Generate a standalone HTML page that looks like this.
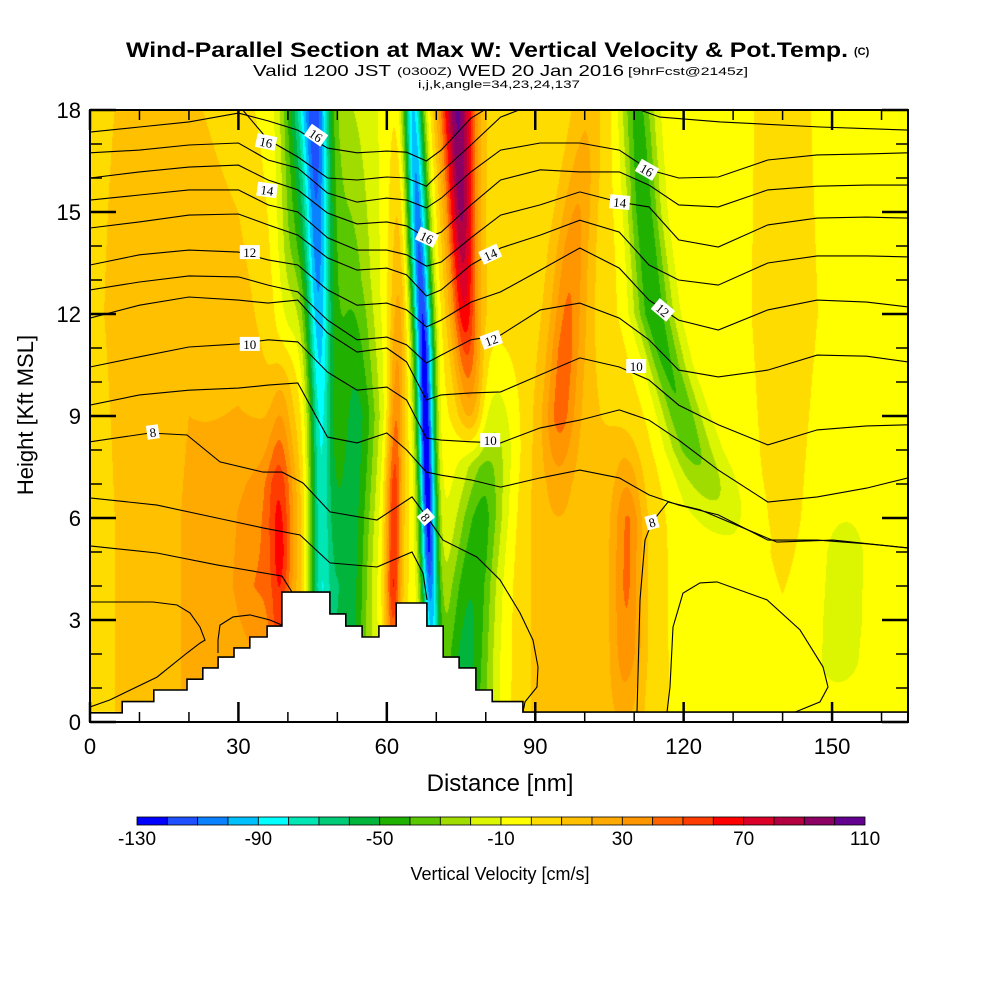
<!DOCTYPE html>
<html><head><meta charset="utf-8">
<style>
body{margin:0;background:#fff;width:1000px;height:1000px;overflow:hidden;position:relative;font-family:"Liberation Sans",Arial,sans-serif}
#field{position:absolute;left:90px;top:110px}
#ov{position:absolute;left:0;top:0}
</style></head>
<body>
<canvas id="field" width="818" height="612"></canvas>
<svg id="ov" width="1000" height="1000" xmlns="http://www.w3.org/2000/svg">
  <defs><clipPath id="plotclip"><rect x="90" y="110" width="818" height="612"/></clipPath></defs>
  <g id="contours" clip-path="url(#plotclip)"></g>
  <g id="terrain" clip-path="url(#plotclip)"></g>
  <g id="clabels"></g>
  <rect x="90" y="110" width="818" height="612" fill="none" stroke="#000" stroke-width="2"/>
  <g id="ticks"></g>
  <g id="ticklabels" font-family="Liberation Sans, Arial, sans-serif" font-size="22"></g>
  <g id="colorbar"></g>
  <text x="126" y="57" font-size="21" font-weight="bold" textLength="722" lengthAdjust="spacingAndGlyphs">Wind-Parallel Section at Max W: Vertical Velocity &amp; Pot.Temp.</text>
  <text x="854" y="55" font-size="11" font-weight="bold">(C)</text>
  <text x="253" y="76" font-size="16" textLength="138" lengthAdjust="spacingAndGlyphs">Valid 1200 JST</text>
  <text x="397" y="75" font-size="11" textLength="55" lengthAdjust="spacingAndGlyphs">(0300Z)</text>
  <text x="458" y="76" font-size="16" textLength="166" lengthAdjust="spacingAndGlyphs">WED 20 Jan 2016</text>
  <text x="628" y="75" font-size="11" textLength="120" lengthAdjust="spacingAndGlyphs">[9hrFcst@2145z]</text>
  <text x="418" y="88" font-size="11" textLength="162" lengthAdjust="spacingAndGlyphs">i,j,k,angle=34,23,24,137</text>
  <text x="500" y="791" font-size="24" text-anchor="middle">Distance [nm]</text>
  <text transform="translate(33,415) rotate(-90)" font-size="22" text-anchor="middle">Height [Kft MSL]</text>
  <text x="500" y="880" font-size="18" text-anchor="middle">Vertical Velocity [cm/s]</text>
</svg>
<script>
// ---------- axis / colour data ----------
const xTicks=[0,30,60,90,120,150];
const yTicks=[0,3,6,9,12,15,18];
const levelMin=-130, levelStep=10;
const binColors=["#0000ff","#1e50ff","#0a82ff","#00c0ff","#00ffff","#00e6b4","#00cc78","#00b43c","#20b000","#5ac800","#a0dc00","#dcf500","#ffff00","#ffdc00","#ffc000","#ffaa00","#ff9600","#ff6400","#ff3c00","#ff0000","#dc0028","#b40040","#8c0064","#640090"];
const cbarLabels=[-130,-90,-50,-10,30,70,110];

// ---------- background vertical velocity grid (cm/s) ----------
const bgX=[0,10,20,30,40,50,60,70,80,90,100,110,120,130,140,150,165.35];
const bgH=[0,6,12,18];
const bgRow0=[5,15,21,22,20,-5,0,-10,-10,12,15,12,-5,-5,-5,-5,-5];
const bgRow6=[5,15,21,24,18,-5,5,-5,-10,12,16,10,-5,-5,3,-5,-5];
const bgRow12=[8,15,19,15,0,-10,0,0,5,6,10,-3,-3,-3,5,-2,-5];
const bgRow18=[8,12,12,5,-10,-10,-5,0,5,3,6,-3,-3,-3,4,-3,-5];

// ---------- tilted w bands: height nodes, centre (nm), amplitude (cm/s), half-width (nm) ----------
const a1H=[0.3,4,9,13,18], a1X=[46.5,46.5,46.5,46,45.5], a1Amp=[-60,-65,-75,-90,-100], a1W=[2.5,2.5,2.5,2.8,3];
const a2H=[0.3,4,9,13,18], a2X=[52,52,54,53,52], a2Amp=[-50,-55,-50,-28,-12], a2W=[5,5,5,5,6];
const a0H=[10,14,18], a0X=[40,41,41.5], a0Amp=[0,-25,-35], a0W=[3,3,3];
const dH=[3.8,5,7,9,11.5], dX=[38.5,38.5,38.3,38.5,38.8], dAmp=[25,32,28,15,0], dW=[2,2.2,2.5,2,2];
const skH=[2,4,7,10], skX=[36,35,36,37], skAmp=[10,20,15,0], skW=[6,6,6,6];
const d2H=[3,4,7,10,13,18], d2X=[61.3,61.3,61.5,62,62.3,62.5], d2Amp=[50,60,55,35,20,10], d2W=[1.6,1.6,1.6,1.6,1.8,2];
const bH=[2.8,3.5,5,8,11,14,18], bX=[69,68.8,68.5,68,67.5,66.5,65.3], bAmp=[-80,-90,-115,-130,-125,-110,-90], bW=[1.8,1.8,1.8,1.8,2,2.2,2.2];
const cH=[7.5,9,12,15,18], cX=[78,77,75.7,75,74.3], cAmp=[0,30,65,90,100], cW=[3,3,2.8,3,3.5];
const hH=[0.3,2,4,6,8,10,12], hX=[76,76,77,79,81,82,82], hAmp=[-40,-45,-40,-35,-25,-10,0], hW=[5,5,5,5,5,5,5];
const fH=[5,7,9,11,14,17,18.5], fX=[94,94.5,95,96,97.5,100,101], fAmp=[0,12,34,36,28,15,10], fW=[3.5,3.5,3.5,3.5,3.5,3.5,3.5];
const gH=[0.3,2,4,6,7.5,9], gX=[108,108.5,108.5,108.7,108.5,107.5], gAmp=[10,25,30,30,15,0], gW=[3,3,3,3,3,3];
const eH=[5,6.5,8,9,10.5,12,15,18.5], eX=[130,126,121.5,119.5,116.5,114,112,110.5], eAmp=[0,-15,-30,-35,-40,-45,-45,-40], eW=[6,6,5,4.5,4,4,3.5,3.5];
const kH=[0.8,1.7,3,5,6.5], kX=[151,151.5,152,152.5,153], kAmp=[0,-12,-14,-12,0], kW=[4,4,4,4,4];
const dataBottom=0.29;

// ---------- terrain (step edges nm, top kft) ----------
const terrainEdges=[0,6.5,12.9,19.6,22.8,25.9,29.1,32.3,35.8,38.8,48.5,51.7,55,58.4,61.9,68.1,71.4,74.6,78,81.3,87.5,165.35];
const terrainTops=[0.27,0.6,0.94,1.26,1.59,1.91,2.18,2.5,2.82,3.82,3.18,2.82,2.5,2.82,3.5,2.82,1.91,1.59,0.94,0.6,0.29];

// ---------- potential temperature isentropes (height kft at thetaX nm) ----------
const thetaX=[0,10,20,30,36,42,48,54,60,64,68,71,77,83,91,99,107,113,119,127,137,147,157,165.35];
const thetaA=[17.35,17.5,17.65,17.91,17.68,17.41,16.88,16.74,16.79,16.76,16.5,16.82,17.76,18.29,null,null,null,null,null,null,null,null,null,null];
const thetaB=[null,null,null,18.15,17.12,16.62,16,15.94,16.03,16,15.76,16.18,16.97,17.79,18.24,null,null,null,null,null,null,null,null,null];
const thetaC=[16.74,16.82,16.97,17.03,16.53,16.29,15.56,15.29,15.41,15.35,15.12,15.41,16.18,16.82,17.03,17.03,16.82,16.24,16,16.03,16.53,16.68,16.71,16.74];
const thetaD=[16,16.18,16.32,16.38,15.94,15.65,14.97,14.65,14.71,14.59,14.24,14.41,15.21,15.94,16.24,16.18,16.18,15.79,15.21,15.15,15.65,15.76,15.79,15.79];
const thetaE=[15.35,15.5,15.65,15.65,15.21,15,14.24,13.88,13.88,13.74,13.41,13.53,14.24,14.91,15.21,15.59,15.29,15.15,14.18,13.97,14.62,14.82,14.85,14.82];
const thetaF=[14.53,14.71,14.91,14.94,14.62,14.32,13.65,13.29,13.35,13.15,12.53,12.71,13.44,13.94,14.32,14.76,14.41,13.44,13,12.85,13.5,13.71,13.71,13.68];
const thetaG=[13.44,13.74,13.88,13.82,13.59,13.44,12.71,12.26,12.32,12.12,11.62,11.82,12.35,12.65,13.29,13.94,13.35,12.41,11.82,11.53,12.12,12.41,12.35,12.21];
const thetaH=[12.71,12.94,13.12,13.09,12.85,12.65,11.82,11.24,11.32,11.09,10.56,10.79,11.24,11.38,12.12,12.32,11.88,11.24,10.35,10.15,10.35,10.79,10.76,10.59];
const thetaI=[11.88,12.26,12.5,12.41,12.32,12.41,11.44,10.88,11,10.59,9.47,9.62,9.68,9.71,10.21,10.71,10.44,10.06,9.32,8.74,8.15,8.59,8.71,8.74];
const thetaJ=[10.44,10.74,11.03,11.12,11.24,11.18,10.29,9.76,9.85,9.47,8.35,8.29,8.24,8.21,8.65,8.88,9.18,8.88,8.29,7.41,6.47,6.62,6.88,7.18];
const thetaK=[9.32,9.62,9.76,9.82,9.91,9.97,8.38,8.21,8.5,8,7.35,7.26,7.12,6.91,7.18,7.41,7.18,6.68,6.38,6.09,5.35,5.35,5.24,5.12];
// free-form isentropes as [nm, kft] pairs
const theta8West=[[0,8.24],[12.13,8.5],[19.61,8.44],[26.28,7.65],[34.97,7.35],[38.81,7.35],[43.06,7.03],[48.51,6.18],[58.01,5.94],[65.09,6.62],[68.12,6.03],[71.36,5.35],[78.23,4.85],[82.88,4.18],[86.92,3.21],[89.55,2.41],[90.56,1.62],[90.36,1.03],[87.93,0.59],[87.53,0.29]];
const theta7=[[0,6.59],[13.54,6.38],[25.67,6],[34.97,5.71],[42.45,5.5],[48.51,4.68],[58.01,4.56],[65.09,5],[67.31,4.38],[68.12,3.59]];
const theta6=[[0,5.18],[13.54,4.97],[25.67,4.62],[38.81,4.29],[40.83,3.82]];
const theta5=[[0,3.53],[12.74,3.53],[17.59,3.44],[20.21,3.21],[22.24,2.79],[23.25,2.41],[22.24,2.32],[19.61,2.03],[13.54,1.32],[4.04,0.65],[0,0.44]];
const thetaSmall=[[25.87,2.03],[25.87,2.41],[26.28,2.85],[28.91,3.09],[32.34,3.15],[36.39,3],[38.81,2.85]];
const theta8East=[[110.57,0.29],[111.18,3.59],[112.19,5.35],[113.6,5.88],[116.84,6.47],[123.31,6.24],[138.87,5.29],[150.2,5.35],[165.35,5.12]];
const thetaLoop=[[116.64,0.29],[117.24,1.03],[117.85,2.79],[119.87,3.79],[123.31,4.09],[126.74,4.12],[136.85,3.59],[143.52,2.71],[148.17,1.62],[149.18,1.03],[147.56,0.59],[142.51,0.29]];
const thetaTopRight=[[111.18,18.0],[115.2,17.79],[127.4,17.65],[147.6,17.5],[165.35,17.41]];
// contour labels: text, nm, kft, rotation
const clabelText=["16","16","14","12","10","8","8","16","14","12","10","16","14","12","10","8"];
const clabelX=[35.6,45.7,35.8,32.3,32.3,12.7,67.9,68.1,80.9,81.1,80.9,112.6,107.1,115.8,110.4,113.6];
const clabelY=[17.06,17.26,15.65,13.82,11.12,8.53,6.03,14.26,13.76,11.24,8.29,16.24,15.29,12.12,10.47,5.88];
const clabelRot=[12,35,8,0,0,-8,50,25,-25,-20,0,30,5,40,0,-15];

// ---------- scales ----------
const X0=90,X1=908,Y0=110,Y1=722,XMAX=165.35,YMAX=18;
function sx(nm){return X0+nm*(X1-X0)/XMAX;}
function sy(k){return Y1-k*(Y1-Y0)/YMAX;}
const NS="http://www.w3.org/2000/svg";

// ---------- field ----------
const features=[
 {h:a1H,x:a1X,a:a1Amp,w:a1W},{h:a2H,x:a2X,a:a2Amp,w:a2W},{h:a0H,x:a0X,a:a0Amp,w:a0W},
 {h:dH,x:dX,a:dAmp,w:dW},{h:skH,x:skX,a:skAmp,w:skW},{h:d2H,x:d2X,a:d2Amp,w:d2W},
 {h:bH,x:bX,a:bAmp,w:bW},{h:cH,x:cX,a:cAmp,w:cW},{h:hH,x:hX,a:hAmp,w:hW},
 {h:fH,x:fX,a:fAmp,w:fW},{h:gH,x:gX,a:gAmp,w:gW},{h:eH,x:eX,a:eAmp,w:eW},{h:kH,x:kX,a:kAmp,w:kW}];
function interpNodes(hs,vs,h){
  if(h<=hs[0])return vs[0];
  if(h>=hs[hs.length-1])return vs[vs.length-1];
  for(let i=0;i<hs.length-1;i++){if(h<=hs[i+1]){const t=(h-hs[i])/(hs[i+1]-hs[i]);return vs[i]+t*(vs[i+1]-vs[i]);}}
  return vs[vs.length-1];
}
(function drawField(){
  const cv=document.getElementById('field');const ctx=cv.getContext('2d');
  const W=cv.width,H=cv.height;const img=ctx.createImageData(W,H);const d=img.data;
  const rgb=binColors.map(c=>[parseInt(c.slice(1,3),16),parseInt(c.slice(3,5),16),parseInt(c.slice(5,7),16)]);
  const rows=[bgRow0,bgRow6,bgRow12,bgRow18];
  for(let py=0;py<H;py++){
    const h=(H-py-0.5)*YMAX/H;
    if(h<dataBottom){for(let px=0;px<W;px++){const o=(py*W+px)*4;d[o]=d[o+1]=d[o+2]=255;d[o+3]=255;}continue;}
    const bgRow=bgX.map((_,j)=>interpNodes(bgH,rows.map(r=>r[j]),h));
    const fs=features.map(f=>({x:interpNodes(f.h,f.x,h),a:interpNodes(f.h,f.a,h),w:interpNodes(f.h,f.w,h)}));
    for(let px=0;px<W;px++){
      const x=(px+0.5)*XMAX/W;
      let v=interpNodes(bgX,bgRow,x);
      for(const f of fs){if(f.a!==0){const q=(x-f.x)/f.w;if(q>-4&&q<4)v+=f.a*Math.exp(-q*q);}}
      let b=Math.floor((v-levelMin)/levelStep);if(b<0)b=0;if(b>23)b=23;
      const o=(py*W+px)*4;d[o]=rgb[b][0];d[o+1]=rgb[b][1];d[o+2]=rgb[b][2];d[o+3]=255;
    }
  }
  ctx.putImageData(img,0,0);
})();

// ---------- contours ----------
(function drawContours(){
  const g=document.getElementById('contours');
  const sampled=[thetaA,thetaB,thetaC,thetaD,thetaE,thetaF,thetaG,thetaH,thetaI,thetaJ,thetaK];
  const free=[theta8West,theta7,theta6,theta5,thetaSmall,theta8East,thetaLoop,thetaTopRight];
  function addPath(dstr){
    const p=document.createElementNS(NS,'path');
    p.setAttribute('d',dstr);p.setAttribute('fill','none');p.setAttribute('stroke','#000');p.setAttribute('stroke-width','1.1');
    
    
    g.appendChild(p);
  }
  sampled.forEach(arr=>{
    let s='',pen=false;
    arr.forEach((v,i)=>{if(v===null){pen=false;return;}s+=(pen?'L':'M')+sx(thetaX[i]).toFixed(1)+','+sy(v).toFixed(1);pen=true;});
    addPath(s);
  });
  free.forEach(pts=>{addPath(pts.map((p,i)=>(i?'L':'M')+sx(p[0]).toFixed(1)+','+sy(p[1]).toFixed(1)).join(''));});
})();

// ---------- terrain ----------
(function drawTerrain(){
  const g=document.getElementById('terrain');
  let top='';
  for(let i=0;i<terrainTops.length;i++){
    const xa=sx(terrainEdges[i]),xb=sx(terrainEdges[i+1]),y=sy(terrainTops[i]);
    top+=(i?'L':'M')+xa.toFixed(1)+','+y.toFixed(1)+'L'+xb.toFixed(1)+','+y.toFixed(1);
  }
  const fill=document.createElementNS(NS,'path');
  fill.setAttribute('d',top+'L'+sx(XMAX)+','+sy(0)+'L'+sx(0)+','+sy(0)+'Z');
  fill.setAttribute('fill','#fff');
  
  
  g.appendChild(fill);
  const line=document.createElementNS(NS,'path');
  line.setAttribute('d',top);line.setAttribute('fill','none');line.setAttribute('stroke','#000');line.setAttribute('stroke-width','1.6');
  
  
  g.appendChild(line);
})();

// ---------- contour labels ----------
(function drawLabels(){
  const g=document.getElementById('clabels');
  clabelText.forEach((t,i)=>{
    const gg=document.createElementNS(NS,'g');
    gg.setAttribute('transform','translate('+sx(clabelX[i]).toFixed(1)+','+sy(clabelY[i]).toFixed(1)+') rotate('+clabelRot[i]+')');
    
    
    const r=document.createElementNS(NS,'rect');
    const w=t.length>1?20:12;
    r.setAttribute('x',-w/2);r.setAttribute('y',-7);r.setAttribute('width',w);r.setAttribute('height',14);r.setAttribute('fill','#fff');
    gg.appendChild(r);
    const tx=document.createElementNS(NS,'text');
    tx.setAttribute('x',0);tx.setAttribute('y',5);tx.setAttribute('text-anchor','middle');
    tx.setAttribute('font-size','13');tx.setAttribute('font-family','Liberation Serif, serif');
    tx.textContent=t;gg.appendChild(tx);
    g.appendChild(gg);
  });
})();

// ---------- ticks & tick labels ----------
(function drawAxes(){
  const g=document.getElementById('ticks');const tl=document.getElementById('ticklabels');
  function ln(x1,y1,x2,y2,w,name){
    const l=document.createElementNS(NS,'line');
    l.setAttribute('x1',x1);l.setAttribute('y1',y1);l.setAttribute('x2',x2);l.setAttribute('y2',y2);
    l.setAttribute('stroke','#000');l.setAttribute('stroke-width',w);
    
    
    g.appendChild(l);
  }
  for(let k=0;k<=YMAX;k++){
    const major=(k%3===0),y=sy(k),L=major?26:12,w=major?2.5:1.5;
    ln(X0,y,X0+L,y,w,'y-tick');ln(X1,y,X1-L,y,w,'y-tick-right');
  }
  for(let n=0;n<=160;n+=10){
    const major=(n%30===0),x=sx(n),L=major?20:10,w=major?2.5:1.5;
    ln(x,Y1,x,Y1-L,w,'x-tick');ln(x,Y0,x,Y0+L,w,'x-tick-top');
  }
  yTicks.forEach(v=>{
    const t=document.createElementNS(NS,'text');
    t.setAttribute('x',81);t.setAttribute('y',sy(v)+8);t.setAttribute('text-anchor','end');
    
    
    t.textContent=v;tl.appendChild(t);
  });
  xTicks.forEach(v=>{
    const t=document.createElementNS(NS,'text');
    t.setAttribute('x',sx(v));t.setAttribute('y',754);t.setAttribute('text-anchor','middle');
    
    
    t.textContent=v;tl.appendChild(t);
  });
})();

// ---------- colorbar ----------
(function drawColorbar(){
  const g=document.getElementById('colorbar');
  const cx0=137,cx1=865,cy=817,ch=8,bw=(cx1-cx0)/binColors.length;
  function cbx(v){return cx0+(v-levelMin)/levelStep*bw;}
  binColors.forEach((c,i)=>{
    const r=document.createElementNS(NS,'rect');
    r.setAttribute('x',(cx0+i*bw).toFixed(2));r.setAttribute('y',cy);r.setAttribute('width',bw.toFixed(2));r.setAttribute('height',ch);
    r.setAttribute('fill',c);r.setAttribute('stroke','#000');r.setAttribute('stroke-width','0.8');
    
    
    g.appendChild(r);
  });
  cbarLabels.forEach(v=>{
    const t=document.createElementNS(NS,'text');
    t.setAttribute('x',cbx(v));t.setAttribute('y',845);t.setAttribute('text-anchor','middle');t.setAttribute('font-size','19');
    
    
    t.textContent=v;g.appendChild(t);
  });
})();
</script>
</body></html>
